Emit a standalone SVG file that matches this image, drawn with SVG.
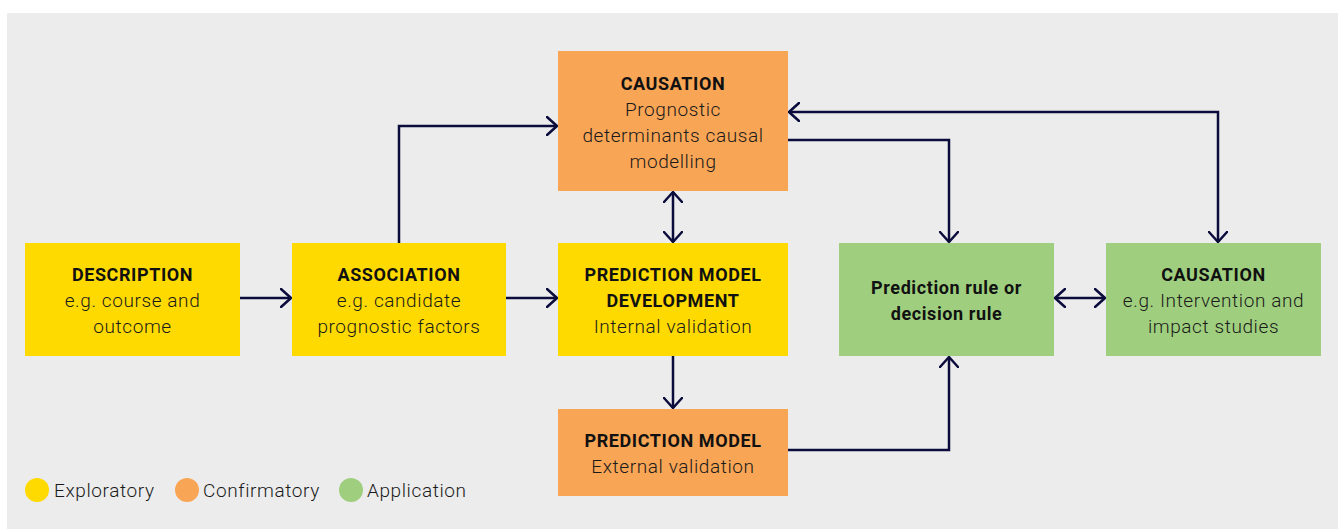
<svg xmlns="http://www.w3.org/2000/svg" width="1340" height="529" viewBox="0 0 1340 529">
  <style>
    .explore { fill: #FFDA00; }
    .confirm { fill: #F8A556; }
    .apply { fill: #9FCF7E; }
    .title { font-family: Roboto, "Liberation Sans", sans-serif; font-size: 18px; letter-spacing: 0.6px; font-weight: 700; fill: #111; text-anchor: middle; }
    .body { font-family: Roboto, "Liberation Sans", sans-serif; font-size: 19px; letter-spacing: 0.6px; font-weight: 300; fill: #1a1a1a; text-anchor: middle; }
    .legend { font-family: Roboto, "Liberation Sans", sans-serif; font-size: 19px; letter-spacing: 0.6px; font-weight: 300; fill: #1a1a1a; }
    .link { fill: none; stroke: #0C0C3C; stroke-width: 2.5; }
  </style>
  <defs>
    <marker id="head" viewBox="0 0 12 20" refX="11" refY="10" markerWidth="12" markerHeight="20" markerUnits="userSpaceOnUse" orient="auto-start-reverse">
      <path d="M1,1 L11,10 L1,19" fill="none" stroke="#0C0C3C" stroke-width="2.5" stroke-linecap="round" stroke-linejoin="round"/>
    </marker>
  </defs>

  <!-- backdrop panel -->
  <rect x="7" y="13" width="1331" height="516" fill="#ECECEC"/>

  <!-- connectors -->
  <g id="connectors">
    <line class="link" x1="240" y1="298" x2="291" y2="298" marker-end="url(#head)"/>
    <line class="link" x1="506" y1="298" x2="557" y2="298" marker-end="url(#head)"/>
    <polyline class="link" points="399,243 399,126 557,126" marker-end="url(#head)"/>
    <line class="link" x1="673" y1="192" x2="673" y2="242" marker-start="url(#head)" marker-end="url(#head)"/>
    <line class="link" x1="673" y1="356" x2="673" y2="408" marker-end="url(#head)"/>
    <polyline class="link" points="788,450 949,450 949,357" marker-end="url(#head)"/>
    <polyline class="link" points="788,140 949,140 949,242" marker-end="url(#head)"/>
    <polyline class="link" points="789,112 1218,112 1218,242" marker-start="url(#head)" marker-end="url(#head)"/>
    <line class="link" x1="1055" y1="298" x2="1105" y2="298" marker-start="url(#head)" marker-end="url(#head)"/>
  </g>

  <!-- nodes -->
  <g id="description">
    <rect class="explore" x="25" y="243" width="215" height="113"/>
    <text class="title" x="132.5" y="281">DESCRIPTION</text>
    <text class="body" x="132.5" y="307">e.g. course and</text>
    <text class="body" x="132.5" y="333">outcome</text>
  </g>
  <g id="association">
    <rect class="explore" x="292" y="243" width="214" height="113"/>
    <text class="title" x="399" y="281">ASSOCIATION</text>
    <text class="body" x="399" y="307">e.g. candidate</text>
    <text class="body" x="399" y="333">prognostic factors</text>
  </g>
  <g id="causation-prognostic">
    <rect class="confirm" x="558" y="51" width="230" height="140"/>
    <text class="title" x="673" y="90">CAUSATION</text>
    <text class="body" x="673" y="116">Prognostic</text>
    <text class="body" x="673" y="142">determinants causal</text>
    <text class="body" x="673" y="168">modelling</text>
  </g>
  <g id="model-development">
    <rect class="explore" x="558" y="243" width="230" height="113"/>
    <text class="title" x="673" y="281">PREDICTION MODEL</text>
    <text class="title" x="673" y="307">DEVELOPMENT</text>
    <text class="body" x="673" y="333">Internal validation</text>
  </g>
  <g id="model-external">
    <rect class="confirm" x="558" y="409" width="230" height="87"/>
    <text class="title" x="673" y="447">PREDICTION MODEL</text>
    <text class="body" x="673" y="473">External validation</text>
  </g>
  <g id="prediction-rule">
    <rect class="apply" x="839" y="243" width="215" height="113"/>
    <text class="title" x="946.5" y="294">Prediction rule or</text>
    <text class="title" x="946.5" y="320">decision rule</text>
  </g>
  <g id="causation-impact">
    <rect class="apply" x="1106" y="243" width="215" height="113"/>
    <text class="title" x="1213.5" y="281">CAUSATION</text>
    <text class="body" x="1213.5" y="307">e.g. Intervention and</text>
    <text class="body" x="1213.5" y="333">impact studies</text>
  </g>

  <!-- legend -->
  <g id="legend">
    <circle class="explore" cx="37" cy="490" r="12"/>
    <text class="legend" x="54" y="497">Exploratory</text>
    <circle class="confirm" cx="187" cy="490" r="12"/>
    <text class="legend" x="203" y="497">Confirmatory</text>
    <circle class="apply" cx="351" cy="490" r="12"/>
    <text class="legend" x="367" y="497">Application</text>
  </g>
</svg>
